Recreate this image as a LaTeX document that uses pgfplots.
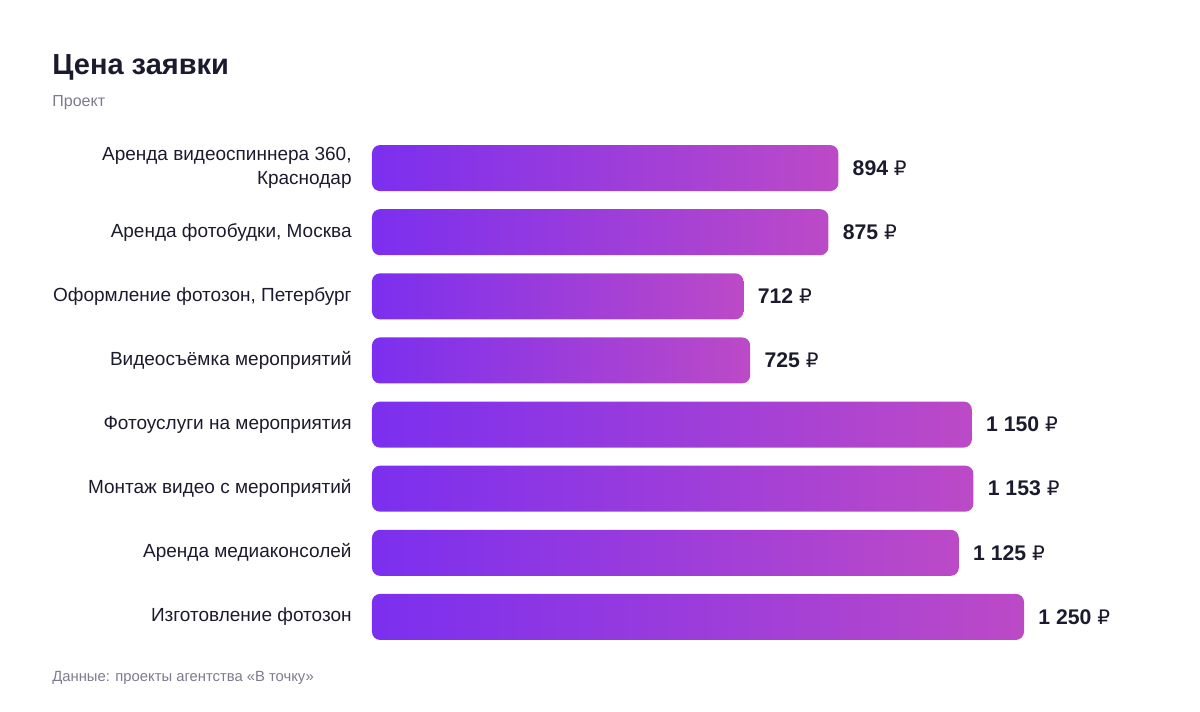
\documentclass[border=0pt]{standalone}
\usepackage{pgfplots}
\pgfplotsset{compat=1.18}
\usepackage{fontspec}
\setmainfont{Liberation Sans}
\newfontfamily\rub{DejaVu Sans}
\definecolor{dark}{HTML}{1C1B2E}
\definecolor{gray1}{HTML}{7C7B8E}
\definecolor{cL}{HTML}{7B2FEF}
\definecolor{cR}{HTML}{BC4AC7}
\begin{document}
\begin{tikzpicture}[x=1pt,y=1pt]
\useasboundingbox (0,0) rectangle (600,356);
\node[anchor=base west, inner sep=0, font=\fontsize{14.5}{17}\selectfont\bfseries, text=dark] at (26,318.5) {Цена заявки};
\node[anchor=base west, inner sep=0, font=\fontsize{8}{9.6}\selectfont, text=gray1] at (26,302.5) {Проект};
\node[anchor=base west, inner sep=0, font=\fontsize{7.4}{9}\selectfont, text=gray1] at (26,15) {Данные: проекты агентства «В точку»};
\begin{axis}[
  at={(186pt,31.5pt)}, anchor=south west,
  scale only axis, width=326pt, height=256.5pt,
  xmin=0, xmax=1250, ymin=-0.5, ymax=7.5, y dir=reverse,
  clip=false,
  axis line style={draw=none},
  tick style={draw=none}, major tick length=0pt,
  xtick=\empty,
  ytick={0,...,7},
  yticklabels={{Аренда видеоспиннера 360,\\Краснодар},
    {Аренда фотобудки, Москва},
    {Оформление фотозон, Петербург},
    {Видеосъёмка мероприятий},
    {Фотоуслуги на мероприятия},
    {Монтаж видео с мероприятий},
    {Аренда медиаконсолей},
    {Изготовление фотозон}},
  yticklabel style={anchor=east, inner sep=0pt, xshift=-10pt, align=right,
    font=\fontsize{9.5}{12}\selectfont, text=dark},
  bar/.style={xbar, bar width=23pt, bar shift=0pt, draw=none, left color=cL, right color=cR, rounded corners=4pt},
]
\addplot[bar] coordinates {(894,0)};
\addplot[bar] coordinates {(875,1)};
\addplot[bar] coordinates {(712,2)};
\addplot[bar] coordinates {(725,3)};
\addplot[bar] coordinates {(1150,4)};
\addplot[bar] coordinates {(1153,5)};
\addplot[bar] coordinates {(1125,6)};
\addplot[bar] coordinates {(1250,7)};
\addplot[only marks, mark=none, point meta=explicit symbolic,
  nodes near coords={\textbf{\pgfplotspointmeta}\ {\rub\fontsize{10}{12}\selectfont ₽}},
  nodes near coords align={anchor=west},
  every node near coord/.append style={anchor=west, xshift=7pt, inner sep=0pt,
    font=\fontsize{10.6}{12}\selectfont, text=dark}]
  coordinates {(894,0) [894] (875,1) [875] (712,2) [712] (725,3) [725]
    (1150,4) [1~150] (1153,5) [1~153] (1125,6) [1~125] (1250,7) [1~250]};
\end{axis}
\end{tikzpicture}
\end{document}
